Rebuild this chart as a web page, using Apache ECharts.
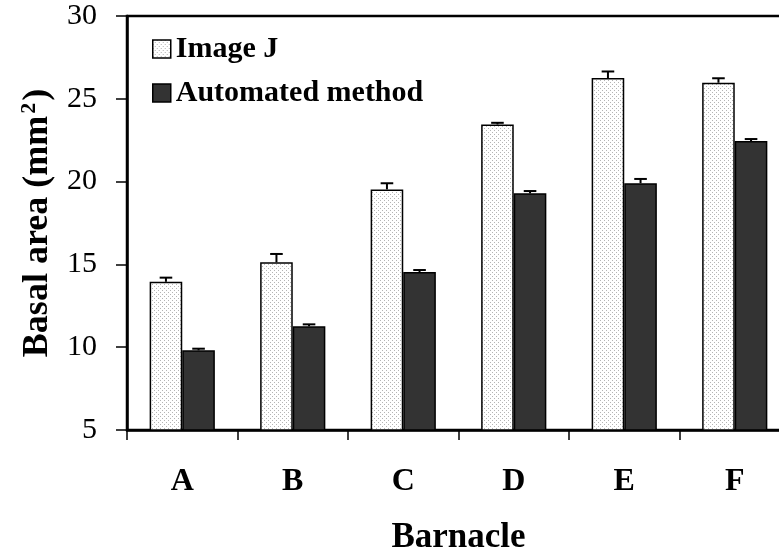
<!DOCTYPE html>
<html>
<head>
<meta charset="utf-8">
<script src="https://cdn.jsdelivr.net/npm/echarts@6/dist/echarts.min.js"></script>
<style>
  html, body { margin: 0; padding: 0; background: #fff; }
  #chart { width: 779px; height: 551px; }
</style>
</head>
<body>
<div id="chart"></div>
<script>
// Barnacle basal area measured two ways (mm^2), mean with upper error bar
const categories = ['A', 'B', 'C', 'D', 'E', 'F'];
const imageJ = [13.95, 15.13, 19.53, 23.45, 26.25, 25.97];
const imageJErr = [0.25, 0.5, 0.37, 0.1, 0.4, 0.27];
const automated = [9.81, 11.26, 14.54, 19.29, 19.9, 22.45];
const automatedErr = [0.1, 0.12, 0.12, 0.14, 0.26, 0.12];
const yTicks = { min: 5, max: 30, interval: 5 };

const FONT = "'Liberation Serif', 'Times New Roman', serif";

// fine stipple fill for the Image J bars
const stipple = document.createElement('canvas');
stipple.width = 4; stipple.height = 4;
(function () {
  const c = stipple.getContext('2d');
  c.fillStyle = '#ffffff'; c.fillRect(0, 0, 4, 4);
  c.fillStyle = '#b4b4b4';
  c.fillRect(0, 0, 1, 1);
  c.fillRect(2, 2, 1, 1);
})();
const stippleFill = { image: stipple, repeat: 'repeat' };
const darkFill = '#333333';

const BAR_FRAC = 0.295; // each bar's share of the category band

function errorBar(offset) {
  return function (params, api) {
    const i = api.value(0), v = api.value(1), e = api.value(2);
    const band = api.size([1, 0])[0];
    const base = api.coord([i, v]);
    const top = api.coord([i, v + e]);
    const x = base[0] + offset * band * BAR_FRAC / 2;
    const half = 6.3;
    return {
      type: 'group',
      children: [
        { type: 'line', shape: { x1: x, y1: base[1], x2: x, y2: top[1] },
          style: { stroke: '#000', lineWidth: 2 } },
        { type: 'line', shape: { x1: x - half, y1: top[1], x2: x + half, y2: top[1] },
          style: { stroke: '#000', lineWidth: 2 } }
      ]
    };
  };
}

const chart = echarts.init(document.getElementById('chart'), null, { renderer: 'canvas' });
chart.setOption({
  animation: false,
  backgroundColor: '#ffffff',
  grid: {
    left: 127, top: 16, bottom: 121, width: 663,
    containLabel: false, outerBoundsMode: 'none',
    show: true, borderColor: '#000', borderWidth: 2.5, backgroundColor: 'transparent'
  },
  legend: {
    orient: 'vertical',
    left: 147, top: 29,
    icon: 'rect',
    itemWidth: 18, itemHeight: 18, itemGap: 14,
    textStyle: { fontFamily: FONT, fontWeight: 'bold', fontSize: 30, color: '#000' },
    data: [
      { name: 'Image J', itemStyle: { color: stippleFill, borderColor: '#000', borderWidth: 1.5 } },
      { name: 'Automated method', itemStyle: { color: darkFill, borderColor: '#000', borderWidth: 1.5 } }
    ]
  },
  xAxis: {
    type: 'category',
    data: categories,
    name: 'Barnacle',
    nameLocation: 'middle',
    nameGap: 90,
    nameTextStyle: { fontFamily: FONT, fontWeight: 'bold', fontSize: 35, color: '#000' },
    axisLine: { lineStyle: { color: '#000', width: 2.5 } },
    axisTick: { show: true, length: 10, lineStyle: { color: '#000', width: 1.5 } },
    axisLabel: { margin: 36, fontFamily: FONT, fontWeight: 'bold', fontSize: 32, color: '#000' }
  },
  yAxis: {
    type: 'value',
    min: yTicks.min, max: yTicks.max, interval: yTicks.interval,
    name: 'Basal area (mm{sup|2})',
    nameLocation: 'middle',
    nameRotate: 90,
    nameGap: 69,
    nameTextStyle: {
      fontFamily: FONT, fontWeight: 'bold', fontSize: 36, color: '#000',
      rich: { sup: { fontFamily: FONT, fontWeight: 'bold', fontSize: 22, color: '#000', verticalAlign: 'top', padding: [0, 2, 18, 2] } }
    },
    splitLine: { show: false },
    axisLine: { show: true, lineStyle: { color: '#000', width: 2.5 } },
    axisTick: { show: true, length: 11, lineStyle: { color: '#000', width: 1.5 } },
    axisLabel: { margin: 30, fontFamily: FONT, fontSize: 30, color: '#000' }
  },
  series: [
    {
      name: 'Image J', type: 'bar', data: imageJ,
      barGap: '0%', barCategoryGap: '41%',
      itemStyle: { color: stippleFill, borderColor: '#000', borderWidth: 1.5 }
    },
    {
      name: 'Automated method', type: 'bar', data: automated,
      barGap: '0%', barCategoryGap: '41%',
      itemStyle: { color: darkFill, borderColor: '#000', borderWidth: 1.5 }
    },
    {
      type: 'custom', renderItem: errorBar(-1), z: 5,
      encode: { x: 0, y: 1 },
      data: categories.map((c, i) => [i, imageJ[i], imageJErr[i]])
    },
    {
      type: 'custom', renderItem: errorBar(1), z: 5,
      encode: { x: 0, y: 1 },
      data: categories.map((c, i) => [i, automated[i], automatedErr[i]])
    }
  ]
});
</script>
</body>
</html>
